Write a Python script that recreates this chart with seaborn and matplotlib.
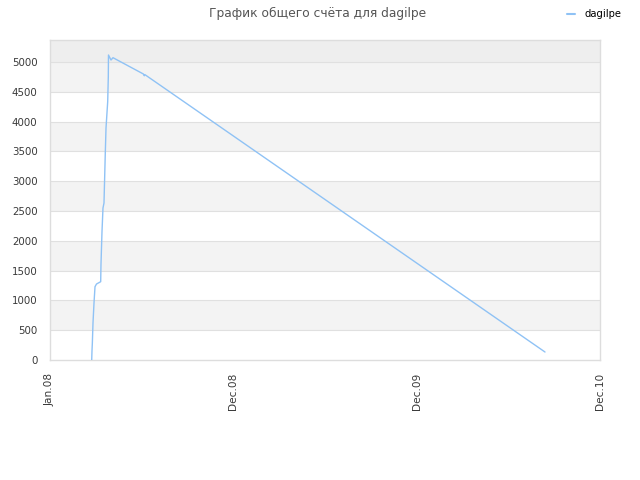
import matplotlib
matplotlib.use("Agg")
import matplotlib.pyplot as plt
import seaborn as sns
import pandas as pd
import numpy as np

title = "График общего счёта для dagilpe"
series_name = "dagilpe"
x_tick_labels = ["Jan.08", "Dec.08", "Dec.09", "Dec.10"]
x_tick_pos = [0, 1, 2, 3]
y_ticks = list(range(0, 5001, 500))

# x in "tick units" (0 = Jan.08, 1 = Dec.08, 2 = Dec.09, 3 = Dec.10)
x_vals = [0.2275, 0.2290, 0.2310, 0.2345, 0.2400, 0.2455, 0.2536, 0.2765,
          0.2780, 0.2836, 0.2890, 0.2945, 0.3016, 0.3055, 0.3147, 0.3180,
          0.3190, 0.3327, 0.3436, 0.5090, 0.5144, 0.5170, 2.7000]
y_vals = [0, 150, 285, 620, 956, 1230, 1275, 1314,
          1594, 2153, 2550, 2634, 3473, 3893, 4334, 4749,
          5118, 5034, 5073, 4800, 4770, 4790, 134]

df = pd.DataFrame({"x": x_vals, "score": y_vals, "player": series_name})

sns.set_style("white")
plt.rcParams["font.family"] = ["DejaVu Sans"]

fig = plt.figure(figsize=(6.4, 4.8), dpi=100)
ax = fig.add_axes([50 / 640, 120 / 480, 550 / 640, 320 / 480])

ymax = 5370
# alternating background bands
for i in range(len(y_ticks) - 1):
    lo, hi = y_ticks[i], y_ticks[i + 1]
    if i % 2 == 1:
        ax.axhspan(lo, hi, color="#f3f3f3", zorder=0, lw=0)
ax.axhspan(y_ticks[-1], ymax, color="#eeeeee", zorder=0, lw=0)
for t in y_ticks[1:]:
    ax.axhline(t, color="#e0e0e0", lw=0.8, zorder=1)

sns.lineplot(data=df, x="x", y="score", hue="player", sort=False,
             palette=["#8fc2f5"], linewidth=1.0, ax=ax, zorder=3)

ax.set_xlim(0, 3)
ax.set_ylim(0, ymax)
ax.set_xticks(x_tick_pos)
ax.set_xticklabels(x_tick_labels, rotation=90, fontsize=7.6, color="#3a3a3a")
ax.set_yticks(y_ticks)
ax.set_yticklabels([str(t) for t in y_ticks], fontsize=7.4, color="#3a3a3a")
ax.tick_params(axis="x", length=0, pad=9)
ax.tick_params(axis="y", length=0, pad=9)
ax.set_xlabel("")
ax.set_ylabel("")
for s in ax.spines.values():
    s.set_color("#dddddd")
    s.set_linewidth(1)

ax.legend_.remove()
fig.text(318 / 640, 1 - 13 / 480, title, ha="center", va="center",
         fontsize=8.8, color="#555555")
leg = fig.legend(handles=[plt.Line2D([0], [0], color="#8fc2f5", lw=1.5)],
                 labels=[series_name], loc="upper right", bbox_to_anchor=(0.985, 1.0),
                 frameon=False, fontsize=7.2, handlelength=0.8, handletextpad=0.9)
for t in leg.get_texts():
    t.set_color("black")

fig.savefig("out.png", dpi=100)
